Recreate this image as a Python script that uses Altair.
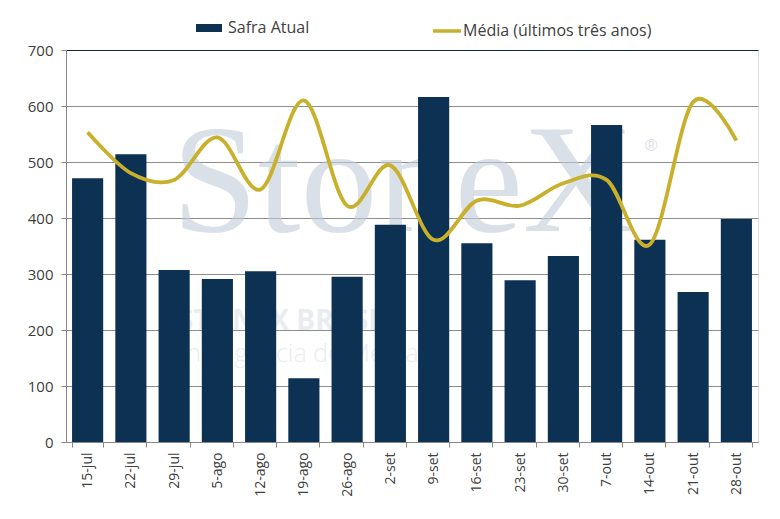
import altair as alt
import pandas as pd

semanas = ["15-jul", "22-jul", "29-jul", "5-ago", "12-ago", "19-ago", "26-ago", "2-set",
           "9-set", "16-set", "23-set", "30-set", "7-out", "14-out", "21-out", "28-out"]
safra_atual = [471, 514, 307, 291, 305, 114, 295, 388, 616, 355, 289, 332, 566, 361, 268, 398]
media_3anos = [553, 480, 468, 544, 451, 610, 422, 494, 361, 431, 422, 462, 468, 353, 607, 538]

serie_bar = "Safra Atual"
serie_line = "Média (últimos três anos)"

df = pd.DataFrame({
    "semana": semanas,
    "safra": safra_atual,
    "media": media_3anos,
    "s1": [serie_bar] * len(semanas),
    "s2": [serie_line] * len(semanas),
})

FONT = "Open Sans"
TXT = "#404040"
BAR = "#0d3153"
LINE = "#c8b02c"

xenc = alt.X("semana:N", sort=semanas, title=None,
             scale=alt.Scale(paddingInner=0.28, paddingOuter=0.14),
             axis=alt.Axis(labelAngle=270, labelFontSize=14, labelFont=FONT, labelColor=TXT,
                           labelPadding=5, tickSize=5, tickColor="#888888", domainColor="#888888",
                           tickBand="extent", grid=False))

yscale = alt.Scale(domain=[0, 700], nice=False)

wm = pd.DataFrame({"t": ["StoneX"]})
watermark = alt.Chart(wm).mark_text(
    font="Liberation Serif", fontSize=154, color="#c3ccd8", opacity=0.6,
    align="left", baseline="alphabetic"
).encode(text="t:N", x=alt.value(106), y=alt.value(181))

wm_r = pd.DataFrame({"t": ["®"]})
watermark_r = alt.Chart(wm_r).mark_text(
    font="Liberation Sans", fontSize=17, color="#c3ccd8", opacity=0.6,
    align="left", baseline="middle"
).encode(text="t:N", x=alt.value(579), y=alt.value(96))

wm2 = pd.DataFrame({"t": ["STONEX BRASIL"]})
watermark2 = alt.Chart(wm2).mark_text(
    font="Open Sans", fontSize=28, fontWeight="bold", color="#d5dbe3", opacity=0.5,
    align="left", baseline="alphabetic"
).encode(text="t:N", x=alt.value(112), y=alt.value(280))

wm3 = pd.DataFrame({"t": ["Inteligência de Mercado"]})
watermark3 = alt.Chart(wm3).mark_text(
    font="Open Sans", fontSize=25, fontWeight=300, color="#d5dbe3", opacity=0.5,
    align="left", baseline="alphabetic"
).encode(text="t:N", x=alt.value(114), y=alt.value(312))

bars = alt.Chart(df).mark_bar(color=BAR).encode(
    x=xenc,
    y=alt.Y("safra:Q", scale=yscale, title=None,
            axis=alt.Axis(values=[0, 100, 200, 300, 400, 500, 600, 700], labelFontSize=15,
                          labelFont=FONT, labelColor=TXT, labelPadding=8, tickSize=5,
                          tickColor="#888888", domainColor="#888888",
                          gridColor={"condition": {"test": "datum.value == 700", "value": "#0d2a45"},
                                     "value": "#8c8c8c"},
                          gridWidth=1)),
    fill=alt.Fill("s1:N", scale=alt.Scale(domain=[serie_bar], range=[BAR]),
                  legend=alt.Legend(title=None, orient="none", legendX=130, legendY=-35,
                                    symbolType="M-1,-0.31H1V0.31H-1Z", symbolSize=676,
                                    symbolStrokeWidth=0, labelFontSize=16, labelFont=FONT,
                                    labelColor=TXT, labelOffset=6, labelLimit=400, padding=0)),
)

line = alt.Chart(df).mark_line(strokeWidth=3.8, interpolate="cardinal").encode(
    x=alt.X("semana:N", sort=semanas),
    y=alt.Y("media:Q", scale=yscale),
    stroke=alt.Stroke("s2:N", scale=alt.Scale(domain=[serie_line], range=[LINE]),
                      legend=alt.Legend(title=None, orient="none", legendX=365, legendY=-35,
                                        symbolType="stroke", symbolSize=784,
                                        symbolStrokeWidth=3.5, labelFontSize=16, labelFont=FONT,
                                        labelColor=TXT, labelOffset=0, labelLimit=400, padding=0)),
)

chart = alt.layer(watermark, watermark_r, watermark2, watermark3, bars, line).properties(
    width=692, height=392,
    autosize=alt.AutoSizeParams(type="none"),
    padding={"left": 58, "top": 42, "right": 14, "bottom": 69},
).configure_view(stroke="#0d2a45", strokeWidth=1.5).configure(background="white")

chart.save("out.html", embed_options={"renderer": "svg", "actions": False})
